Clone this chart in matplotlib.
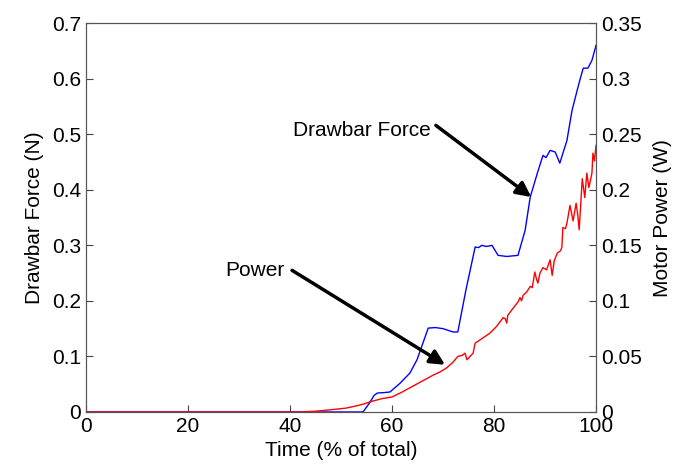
import numpy as np
import matplotlib
matplotlib.use('Agg')
import matplotlib.pyplot as plt

plt.rcParams['font.family'] = ['Liberation Sans', 'DejaVu Sans']
plt.rcParams['font.size'] = 15

# drawbar force (N)
force_t = [0, 54.3, 55.5, 56.5, 57.1, 58.5, 59.6, 61.6, 63.5, 64.9, 67.1, 68.5, 70.0,
           72.0, 72.9, 74.5, 76.3, 77.0, 77.6, 78.5, 79.6, 80.8, 82.5, 84.7, 86.1,
           87.1, 88.5, 89.6, 90.2, 91.0, 92.0, 92.9, 94.3, 95.3, 96.3, 96.9, 97.5,
           98.4, 99.2, 100]
force = [0, 0, 0.015, 0.03, 0.034, 0.035, 0.036, 0.052, 0.07, 0.094, 0.151, 0.152, 0.150,
         0.144, 0.144, 0.22, 0.297, 0.296, 0.30, 0.298, 0.30, 0.282, 0.28, 0.282, 0.327,
         0.387, 0.43, 0.462, 0.458, 0.471, 0.468, 0.448, 0.489, 0.543, 0.579, 0.60, 0.619,
         0.619, 0.633, 0.66]

# motor power (W)
power_t = [0, 42, 45, 48, 51, 53.5, 54.3, 56, 58, 60, 62, 64, 66, 68, 69.4, 70.8, 72.0,
           72.9, 73.8, 74.3, 74.7, 75.9, 76.3, 77.3, 79.2, 80.5, 81.8, 82.2, 82.5, 82.7,
           83.5, 84.7, 85.1, 85.4, 85.7, 86.4, 87.1, 87.5, 88.0, 88.3, 88.6, 89.0, 89.6,
           90.3, 91.0, 91.4, 91.8, 92.4, 93.0, 93.3, 93.5, 94.0, 94.3, 94.9, 95.5, 96.1,
           96.4, 96.7, 97.3, 97.8, 98.2, 98.6, 99.2, 99.4, 99.7, 100]
power = [0, 0, 0.0007, 0.002, 0.0035, 0.006, 0.007, 0.0095, 0.012, 0.0135, 0.018, 0.023,
         0.028, 0.033, 0.036, 0.040, 0.045, 0.050, 0.051, 0.053, 0.047, 0.053, 0.062,
         0.065, 0.071, 0.077, 0.085, 0.084, 0.080, 0.087, 0.092, 0.099, 0.103, 0.100,
         0.105, 0.108, 0.113, 0.112, 0.126, 0.120, 0.116, 0.125, 0.130, 0.128, 0.137,
         0.123, 0.136, 0.143, 0.145, 0.148, 0.166, 0.165, 0.170, 0.186, 0.172, 0.188,
         0.178, 0.164, 0.210, 0.193, 0.215, 0.202, 0.215, 0.233, 0.226, 0.240]

fig = plt.figure(figsize=(6.74, 4.73), dpi=100)
ax = fig.add_axes([0.1276, 0.129, 0.7567, 0.822])
ax2 = ax.twinx()

ax.plot(force_t, force, color='#0000ff', lw=1)
ax2.plot(power_t, power, color='#ff0000', lw=1)

ax.set_xlim(0, 100)
ax.set_ylim(0, 0.7)
ax2.set_ylim(0, 0.35)
ax.set_xticks(np.arange(0, 101, 20))
ax.set_yticks(np.arange(0, 0.71, 0.1))
ax.set_yticklabels(['0', '0.1', '0.2', '0.3', '0.4', '0.5', '0.6', '0.7'])
ax2.set_yticks(np.arange(0, 0.351, 0.05))
ax2.set_yticklabels(['0', '0.05', '0.1', '0.15', '0.2', '0.25', '0.3', '0.35'])

ax.set_xlabel('Time (% of total)')
ax.set_ylabel('Drawbar Force (N)', labelpad=6)
ax2.set_ylabel('Motor Power (W)', labelpad=8)

for a in (ax, ax2):
    a.tick_params(direction='in', length=5, color='#444444')
    for s in a.spines.values():
        s.set_color('#555555')

arrow = dict(arrowstyle='-|>', color='k', lw=2.5, mutation_scale=22, shrinkA=0, shrinkB=0)

ax.text(67.5, 0.507, 'Drawbar Force', ha='right', va='center', fontsize=15)
ax.annotate('', xy=(87.3, 0.387), xytext=(68.6, 0.516), arrowprops=arrow)

ax.text(39.0, 0.255, 'Power', ha='right', va='center', fontsize=15)
ax.annotate('', xy=(70.4, 0.085), xytext=(40.4, 0.255), arrowprops=arrow)

fig.savefig('out.png', dpi=100)
